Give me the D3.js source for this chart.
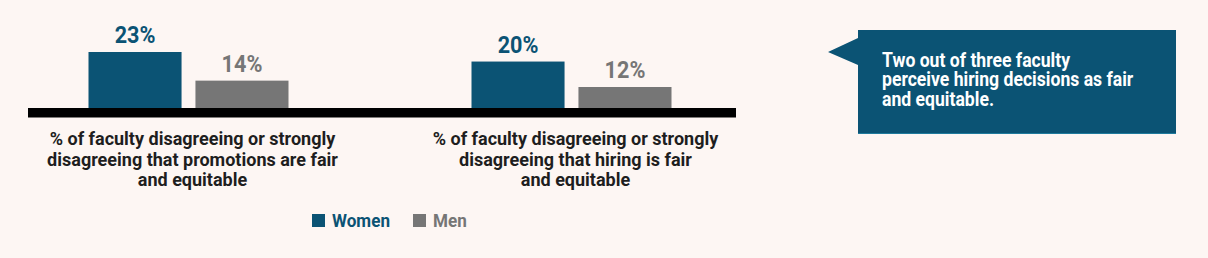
<!DOCTYPE html>
<html>
<head>
<meta charset="utf-8">
<script src="https://cdn.jsdelivr.net/npm/d3@7"></script>
<style>
  html, body { margin: 0; padding: 0; background: #fdf6f3; }
  svg { display: block; }
  text { font-family: "Roboto", sans-serif; font-weight: bold; }
</style>
</head>
<body>
<script>
// data
const groups = [
  ["% of faculty disagreeing or strongly", "disagreeing that promotions are fair", "and equitable"],
  ["% of faculty disagreeing or strongly", "disagreeing that hiring is fair", "and equitable"]
];
const series = ["Women", "Men"];
const women = [23, 20];
const men = [14, 12];
const colors = ["#0b5374", "#767676"];
const note = ["Two out of three faculty", "perceive hiring decisions as fair", "and equitable."];

const width = 1208, height = 258;
const baseY = 108;

const svg = d3.select("body").append("svg")
  .attr("width", width)
  .attr("height", height);

svg.append("rect").attr("width", width).attr("height", height).attr("fill", "#fdf6f3");

// scales
const x0 = d3.scalePoint().domain(d3.range(groups.length)).range([188.5, 571.5]);
const x1 = d3.scaleBand().domain(series).range([-100, 100]).paddingInner(0.13);
const y = d3.scaleLinear().domain([5.4, 23]).range([baseY, 52]);

const rows = [];
groups.forEach((g, i) => {
  rows.push({ g: i, s: "Women", v: women[i] });
  rows.push({ g: i, s: "Men", v: men[i] });
});

const color = d3.scaleOrdinal().domain(series).range(colors);

svg.append("g").selectAll("rect")
  .data(rows)
  .join("rect")
  .attr("x", d => x0(d.g) + x1(d.s))
  .attr("y", d => y(d.v))
  .attr("width", x1.bandwidth())
  .attr("height", d => baseY - y(d.v))
  .attr("fill", d => color(d.s));

// value labels
svg.append("g").selectAll("text")
  .data(rows)
  .join("text")
  .attr("transform", d => `translate(${x0(d.g) + x1(d.s) + x1.bandwidth() / 2},${y(d.v) - 9}) scale(0.9,1)`)
  .attr("text-anchor", "middle")
  .attr("font-size", 24)
  .attr("fill", d => color(d.s))
  .text(d => d.v + "%");

// baseline
svg.append("rect")
  .attr("x", 28).attr("y", baseY)
  .attr("width", 708).attr("height", 9.5)
  .attr("fill", "#000");

// category labels
groups.forEach((lines, i) => {
  const t = svg.append("text")
    .attr("transform", `translate(${x0(i) + 4},145)`)
    .attr("text-anchor", "middle")
    .attr("font-size", 18)
    .attr("fill", "#1e1e1e");
  lines.forEach((l, j) => {
    t.append("tspan").attr("x", 0).attr("dy", j ? 20.5 : 0).text(l);
  });
});

// legend
const legend = svg.append("g").attr("transform", "translate(312,214)");
const legX = [0, 101];
series.forEach((s, i) => {
  const g = legend.append("g").attr("transform", `translate(${legX[i]},0)`);
  g.append("rect").attr("width", 13).attr("height", 13).attr("fill", color(s));
  g.append("text").attr("transform", "translate(20,13) scale(0.95,1)")
    .attr("font-size", 18).attr("fill", color(s)).text(s);
});

// callout
const call = svg.append("g");
call.append("path")
  .attr("d", "M858,30 H1176 V134 H858 V65 L828,52 L858,38 Z")
  .attr("fill", "#0b5374");
call.append("line")
  .attr("x1", 858).attr("x2", 1176).attr("y1", 133.5).attr("y2", 133.5)
  .attr("stroke", "#1f7a9c").attr("stroke-width", 1);
const nt = call.append("text")
  .attr("transform", "translate(882,66.5) scale(0.88,1)")
  .attr("font-size", 20)
  .attr("fill", "#fff");
note.forEach((l, j) => {
  nt.append("tspan").attr("x", 0).attr("dy", j ? 19.7 : 0).text(l);
});
</script>
</body>
</html>
